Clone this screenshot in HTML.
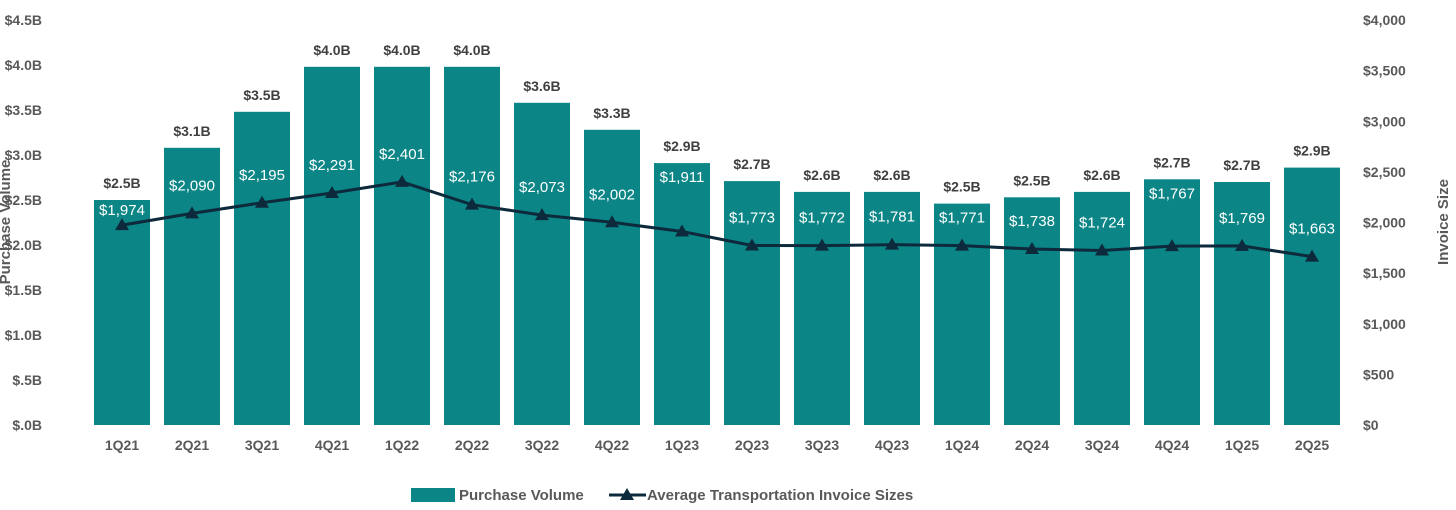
<!DOCTYPE html>
<html><head><meta charset="utf-8"><style>
body{margin:0;background:#fff;}
svg{display:block;font-family:"Liberation Sans",sans-serif;}
</style></head><body>
<svg id="chart" width="1456" height="510"></svg>
<script>
const categories=["1Q21","2Q21","3Q21","4Q21","1Q22","2Q22","3Q22","4Q22","1Q23","2Q23","3Q23","4Q23","1Q24","2Q24","3Q24","4Q24","1Q25","2Q25"];
const volume=[2.5,3.08,3.48,3.98,3.98,3.98,3.58,3.28,2.91,2.71,2.59,2.59,2.46,2.53,2.59,2.73,2.7,2.86];
const volumeLabels=["$2.5B","$3.1B","$3.5B","$4.0B","$4.0B","$4.0B","$3.6B","$3.3B","$2.9B","$2.7B","$2.6B","$2.6B","$2.5B","$2.5B","$2.6B","$2.7B","$2.7B","$2.9B"];
const invoice=[1974,2090,2195,2291,2401,2176,2073,2002,1911,1773,1772,1781,1771,1738,1724,1767,1769,1663];
const leftTicks=[0,0.5,1,1.5,2,2.5,3,3.5,4,4.5];
const leftTickLabels=["$.0B","$.5B","$1.0B","$1.5B","$2.0B","$2.5B","$3.0B","$3.5B","$4.0B","$4.5B"];
const rightTicks=[0,500,1000,1500,2000,2500,3000,3500,4000];

const svg=document.getElementById('chart');
const NS='http://www.w3.org/2000/svg';
const y0=425,yTop=20;
const yL=v=>y0-v/4.5*(y0-yTop);
const yR=v=>y0-v/4000*(y0-yTop);
const xC=i=>122+i*70;
const bw=56;
const fmt=v=>'$'+v.toLocaleString('en-US');
function mk(tag,attrs,text){const e=document.createElementNS(NS,tag);for(const k in attrs)e.setAttribute(k,attrs[k]);if(text!==undefined)e.textContent=text;svg.appendChild(e);return e;}
const gray='#595959';
leftTicks.forEach((t,i)=>{
 const e=mk('text',{x:42,y:yL(t)+5,'text-anchor':'end','font-size':14,'font-weight':'bold',fill:gray},leftTickLabels[i]);
 
 
});
rightTicks.forEach(t=>{
 const e=mk('text',{x:1363,y:yR(t)+5,'font-size':14,'font-weight':'bold',fill:gray},fmt(t));
 
 
});
let e=mk('text',{x:0,y:0,transform:'translate(10,222) rotate(-90)','text-anchor':'middle','font-size':15,'font-weight':'bold',fill:gray},'Purchase Volume');

e=mk('text',{x:0,y:0,transform:'translate(1448,222) rotate(-90)','text-anchor':'middle','font-size':15,'font-weight':'bold',fill:gray},'Invoice Size');

categories.forEach((c,i)=>{
 const b=mk('rect',{x:xC(i)-bw/2,y:yL(volume[i]),width:bw,height:y0-yL(volume[i]),fill:'#0b8585'});
 
 
 const l=mk('text',{x:xC(i),y:yL(volume[i])-12,'text-anchor':'middle','font-size':14,'font-weight':'bold',fill:'#404040'},volumeLabels[i]);
 
 
 const x=mk('text',{x:xC(i),y:450,'text-anchor':'middle','font-size':14,'font-weight':'bold',fill:gray},c);
 
 
});
const pts=invoice.map((v,i)=>xC(i)+','+yR(v)).join(' ');
e=mk('polyline',{points:pts,fill:'none',stroke:'#0d2a3c','stroke-width':3});

invoice.forEach((v,i)=>{
 const x=xC(i),y=yR(v);
 const m=mk('polygon',{points:`${x},${y-7} ${x-7},${y+5} ${x+7},${y+5}`,fill:'#0d2a3c'});
 
 
 const top=yL(volume[i]);
 let cy=y-28;
 if(y-top<66) cy=Math.max(cy,top+10);
 else if(y-top<80) cy=Math.min(cy,top+14);
 const t=mk('text',{x:x,y:cy+5,'text-anchor':'middle','font-size':15,fill:'#ffffff'},fmt(v));
 
 
});
e=mk('rect',{x:411,y:488,width:44,height:14,fill:'#0b8585'});

e=mk('text',{x:459,y:500,'font-size':15,'font-weight':'bold',fill:gray},'Purchase Volume');

e=mk('line',{x1:609,y1:495,x2:646,y2:495,stroke:'#0d2a3c','stroke-width':3});

e=mk('polygon',{points:'627,488 620,500 634,500',fill:'#0d2a3c'});

e=mk('text',{x:647,y:500,'font-size':15,'font-weight':'bold',fill:gray},'Average Transportation Invoice Sizes');

</script>
</body></html>
